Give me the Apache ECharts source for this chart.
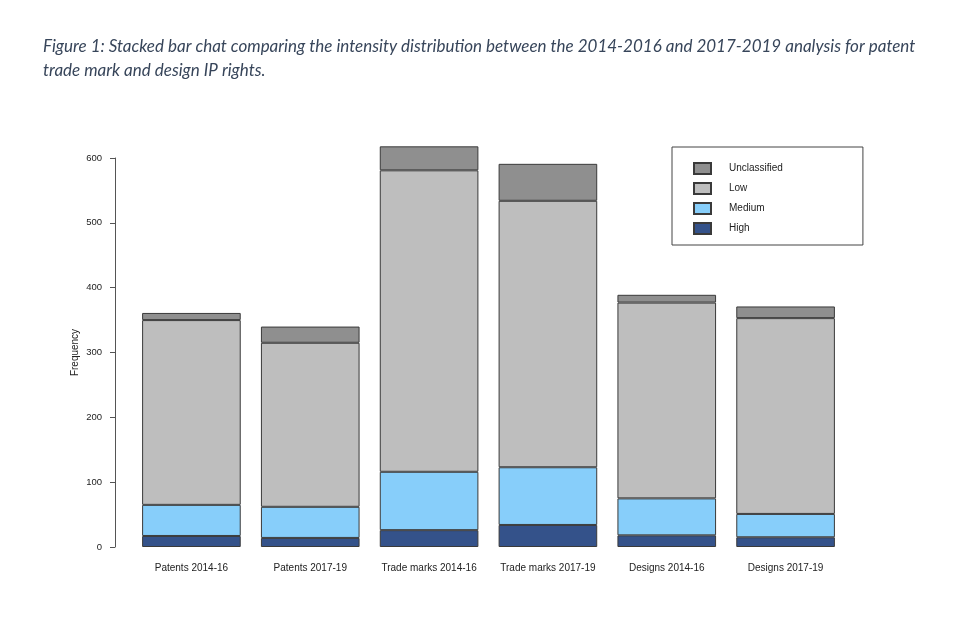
<!DOCTYPE html>
<html>
<head>
<meta charset="utf-8">
<script src="https://cdn.jsdelivr.net/npm/echarts@6/dist/echarts.min.js"></script>
<style>html,body{margin:0;padding:0;background:#fff}#c{width:960px;height:640px}</style>
</head>
<body>
<div id="c"></div>
<script>
var categories = ['Patents 2014-16','Patents 2017-19','Trade marks 2014-16','Trade marks 2017-19','Designs 2014-16','Designs 2017-19'];
var high = [17, 14, 26, 34, 18, 15];
var medium = [48, 48, 90, 89, 57, 36];
var low = [285, 253, 465, 411, 302, 302];
var unclassified = [11, 25, 37, 57, 12, 18];
var yTicks = [0, 100, 200, 300, 400, 500, 600];

var chart = echarts.init(document.getElementById('c'), null, {renderer: 'canvas'});
function bar(name, data, color) {
  return {
    name: name, type: 'bar', stack: 'total', data: data, clip: false,
    barCategoryGap: '17%',
    itemStyle: {color: color, borderColor: '#3a3a3a', borderWidth: 1},
    emphasis: {disabled: true}
  };
}
chart.setOption({
  animation: false,
  backgroundColor: '#fff',
  title: {
    text: 'Figure 1: Stacked bar chat comparing the intensity distribution between the 2014-2016 and 2017-2019 analysis for patent\ntrade mark and design IP rights.',
    left: 38, top: 30,
    textStyle: {fontFamily: 'Lato', fontStyle: 'italic', fontWeight: 'normal', fontSize: 17, color: '#37455a', lineHeight: 24}
  },
  legend: {
    orient: 'vertical', left: 672, top: 147,
    data: ['Unclassified', 'Low', 'Medium', 'High'],
    itemWidth: 17, itemHeight: 11, itemGap: 7,
    padding: [15, 80, 10, 21],
    borderColor: '#444', borderWidth: 1,
    icon: 'rect',
    textStyle: {fontFamily: 'Liberation Sans', fontSize: 10, color: '#222', padding: [0, 0, 0, 13]}
  },
  grid: {left: 132, right: 115, top: 158, bottom: 93},
  xAxis: {
    type: 'category', data: categories,
    axisLine: {show: false}, axisTick: {show: false},
    axisLabel: {margin: 16, fontFamily: 'Liberation Sans', fontSize: 10, color: '#222', interval: 0}
  },
  yAxis: {
    type: 'value', min: 0, max: 600, interval: 100, offset: 17,
    name: 'Frequency', nameLocation: 'middle', nameRotate: 90, nameGap: 35,
    nameMoveOverlap: false,
    nameTextStyle: {fontFamily: 'Liberation Sans', fontSize: 10, color: '#222'},
    axisLine: {show: true, lineStyle: {color: '#555', width: 1}},
    axisTick: {show: true, length: 5, inside: false, lineStyle: {color: '#555'}},
    axisLabel: {margin: 13, fontFamily: 'Liberation Sans', fontSize: 9.5, color: '#222',
      formatter: function (v) { return yTicks.indexOf(v) >= 0 ? String(v) : ''; }},
    splitLine: {show: false}
  },
  series: [
    bar('High', high, '#34528a'),
    bar('Medium', medium, '#87cefa'),
    bar('Low', low, '#bebebe'),
    bar('Unclassified', unclassified, '#8f8f8f')
  ]
});
</script>
</body>
</html>
